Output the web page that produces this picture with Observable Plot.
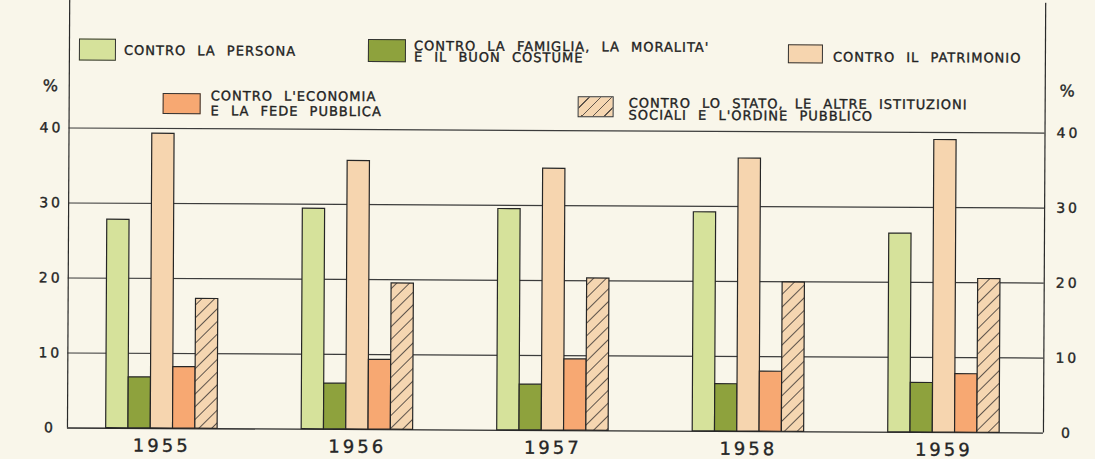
<!DOCTYPE html>
<html><head><meta charset="utf-8">
<script src="https://cdn.jsdelivr.net/npm/d3@7"></script>
<script src="https://cdn.jsdelivr.net/npm/@observablehq/plot@0.6"></script>
<style>
html,body{margin:0;padding:0;background:#f9f6ea;}
#wrap{position:relative;width:1095px;height:459px;overflow:hidden;background:#f9f6ea;}
#chart{position:absolute;left:0;top:0;width:1095px;height:459px;transform:rotate(0.3deg);transform-origin:547px 230px;}
#chart svg text{letter-spacing:3px;stroke:#262626;stroke-width:0.35px;}
.lg{position:absolute;font-family:"DejaVu Sans",sans-serif;font-size:13px;line-height:11px;height:11px;letter-spacing:1px;word-spacing:6px;color:#222;white-space:nowrap;-webkit-text-stroke:0.35px #222;}
.sw{position:absolute;border:1.3px solid #333;box-sizing:border-box;}
</style></head>
<body><div id="wrap"><div id="chart"></div></div>
<script>
// ---- data ----
const years = ["1955", "1956", "1957", "1958", "1959"];
const series = ["persona", "famiglia", "patrimonio", "economia", "stato"];
const legendLines = [
  ["CONTRO LA PERSONA"],
  ["CONTRO LA FAMIGLIA, LA MORALITA'", "E IL BUON COSTUME"],
  ["CONTRO IL PATRIMONIO"],
  ["CONTRO L'ECONOMIA", "E LA FEDE PUBBLICA"],
  ["CONTRO LO STATO, LE ALTRE ISTITUZIONI", "SOCIALI E L'ORDINE PUBBLICO"]
];
const persona    = [27.8, 29.4, 29.5, 29.2, 26.5];
const famiglia   = [6.8, 6.1, 6.1, 6.3, 6.6];
const patrimonio = [39.3, 35.8, 34.9, 36.4, 39.0];
const economia   = [8.2, 9.3, 9.5, 8.0, 7.8];
const stato      = [17.3, 19.5, 20.3, 19.9, 20.5];
const yTicks = [0, 10, 20, 30, 40];
const gridTicks = [10, 20, 30, 40];

// ---- styles ----
const fills = ["#d6e29b", "#8ea23d", "#f6d5af", "#f7a872", "url(#hatch)"];
const legendFills = ["#d6e29b", "#8ea23d", "#f6d5af", "#f7a872",
  "repeating-linear-gradient(135deg,#f5d6b1 0 7px,#5e544b 7px 8px)"];
const barW = 0.114;
const xDomain = [-0.483, 4.509];

const values = [persona, famiglia, patrimonio, economia, stato];
const table = [];
years.forEach((yr, i) => series.forEach((s, j) => {
  const x1 = i + (j - 2.5) * barW;
  table.push({year: yr, series: s, value: values[j][i], x1, x2: x1 + barW});
}));

const svg = Plot.plot({
  width: 1095, height: 459,
  marginLeft: 68, marginRight: 51, marginTop: 0, marginBottom: 29,
  style: {background: "transparent", fontFamily: "DejaVu Sans, sans-serif", color: "#262626"},
  x: {domain: xDomain, axis: null},
  y: {domain: [0, 57.33], axis: null},
  color: {type: "ordinal", domain: series, range: fills},
  marks: [
    Plot.ruleY(gridTicks, {stroke: "#3c3c3c", strokeWidth: 1.2}),
    Plot.ruleY([0], {stroke: "#2a2a2a", strokeWidth: 1.3}),
    Plot.ruleX(xDomain, {stroke: "#2a2a2a", strokeWidth: 1.2}),
    Plot.rectY(table, {x1: "x1", x2: "x2", y: "value", fill: "series", stroke: "#262626", strokeWidth: 1.2}),
    Plot.text(yTicks, {y: d => d, text: d => String(d), frameAnchor: "left", textAnchor: "middle", dx: -17.5, fontSize: 14, fill: "#262626"}),
    Plot.text(yTicks, {y: d => d, text: d => String(d), frameAnchor: "right", textAnchor: "middle", dx: 23.5, fontSize: 14, fill: "#262626"}),
    Plot.text(["%"], {frameAnchor: "top-left", textAnchor: "middle", lineAnchor: "middle", dx: -17.5, dy: 88, fontSize: 16, fill: "#262626"}),
    Plot.text(["%"], {frameAnchor: "top-right", textAnchor: "middle", lineAnchor: "middle", dx: 23.5, dy: 88, fontSize: 16, fill: "#262626"}),
    Plot.text(years, {x: (d, i) => i, text: d => d, frameAnchor: "bottom", lineAnchor: "middle", dy: 17.5, fontSize: 18, fill: "#262626"})
  ]
});

const defs = d3.select(svg).insert("defs", ":first-child");
const pat = defs.append("pattern").attr("id", "hatch").attr("patternUnits", "userSpaceOnUse")
  .attr("width", 9).attr("height", 9).attr("patternTransform", "rotate(45)");
pat.append("rect").attr("width", 9).attr("height", 9).attr("fill", "#f5d6b1");
pat.append("line").attr("x1", 4.5).attr("y1", 0).attr("x2", 4.5).attr("y2", 9)
  .attr("stroke", "#5e544b").attr("stroke-width", 1);

const chart = document.getElementById("chart");
chart.appendChild(svg);
svg.style.position = "absolute"; svg.style.left = "0"; svg.style.top = "0";

// ---- legend (HTML overlay inside the frame) ----
const legendBoxes = [
  {sx: 78, sy: 41, sw: 37, sh: 22, tx: 123, ty: [46.5]},
  {sx: 367, sy: 40, sw: 38, sh: 23, tx: 413, ty: [40.5, 52.2]},
  {sx: 787, sy: 43, sw: 35, sh: 19, tx: 832, ty: [50.2]},
  {sx: 162, sy: 95, sw: 38, sh: 21, tx: 210, ty: [92.2, 107.2]},
  {sx: 577, sy: 96, sw: 36, sh: 21, tx: 628, ty: [96.8, 108.8]}
];
legendBoxes.forEach((b, k) => {
  const sw = document.createElement("div");
  sw.className = "sw";
  Object.assign(sw.style, {left: b.sx + "px", top: b.sy + "px", width: b.sw + "px", height: b.sh + "px", background: legendFills[k]});
  chart.appendChild(sw);
  legendLines[k].forEach((line, m) => {
    const t = document.createElement("div");
    t.className = "lg";
    Object.assign(t.style, {left: b.tx + "px", top: b.ty[m] + "px"});
    t.textContent = line;
    chart.appendChild(t);
  });
});
</script>
</body></html>
